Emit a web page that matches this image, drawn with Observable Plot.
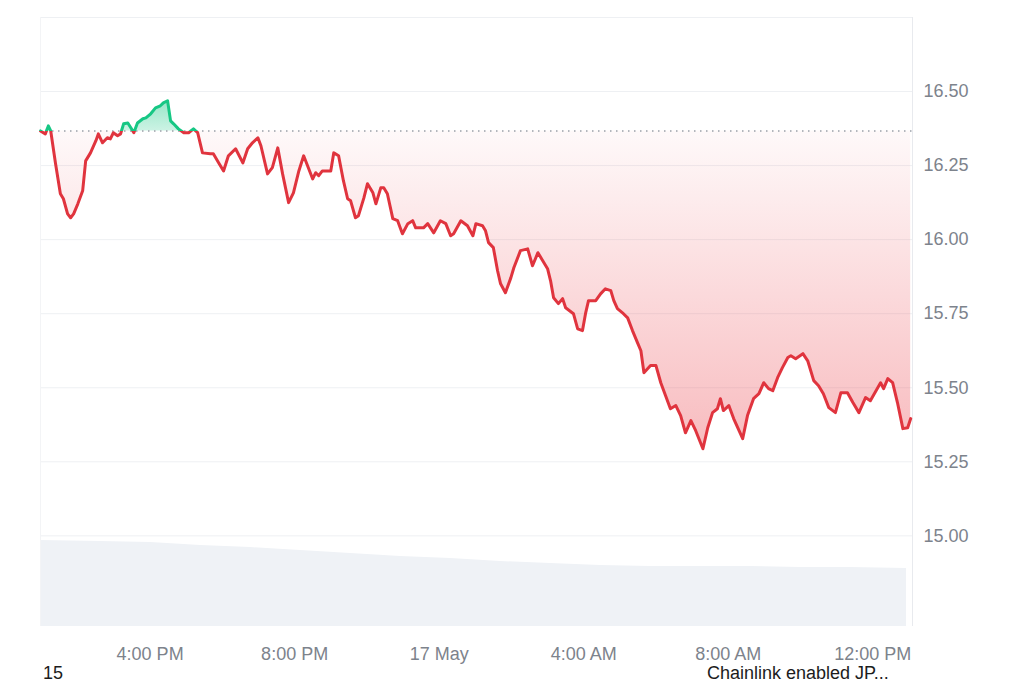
<!DOCTYPE html>
<html><head><meta charset="utf-8">
<script src="https://cdn.jsdelivr.net/npm/d3@7"></script>
<script src="https://cdn.jsdelivr.net/npm/@observablehq/plot@0.6"></script>
<style>
html,body{margin:0;padding:0;background:#fff;}
#wrap{position:relative;width:1024px;height:683px;font-family:"Liberation Sans",Arial,sans-serif;overflow:hidden;}
#chart svg{display:block;}
#notes{position:relative;height:19px;line-height:18px;font-size:18px;color:#1c1c1c;}
#notes span{position:absolute;top:0;white-space:nowrap;}
</style></head><body>
<div id="wrap"><div id="chart"></div><div id="notes"><span style="left:43px">15</span><span style="left:707px">Chainlink enabled JP...</span></div></div>
<script>
// Time origin: 16 May 2024 13:00 (UTC used as local clock)
const START = Date.UTC(2024, 4, 16, 13, 0);

// minutes after START
const minutes = [
  -2,6,11,15,23,31,36,43,48,53,60,68,73,81,90,94,101,109,114,119,126,131,136,143,148,153,159,168,173,181,189,197,202,209,214,219,227,236,244,252,259,267,280,285,294,302,310,322,334,342,
  350,359,364,375,383,392,400,410,418,427,435,450,455,460,466,480,485,493,501,508,513,521,526,535,541,550,555,563,568,574,583,591,599,608,616,621,634,641,651,662,671,679,684,696,707,716,721,732,
  737,742,750,757,762,770,779,784,795,807,815,824,832,840,845,850,858,865,870,883,890,898,903,908,920,928,936,945,950,956,966,973,981,990,995,1000,1011,
  1020,1028,1036,1044,1053,1061,1069,1078,1086,1098,1106,1114,1122,1127,1132,1141,1149,1164,1172,1182,1191,1199,1207,1214,1222,1230,1239,1244,1252,1264,1272,1282,1290,1298,1307,1318,1327,1338,1347,1357,1368,1376,1393,1398,1405,1413,1421,1430,1438,1443
];
// LINK price (USD)
const prices = [
  16.367,16.357,16.384,16.367,16.256,16.155,16.138,16.087,16.074,16.087,16.121,16.165,16.266,16.293,16.334,16.357,16.327,16.344,16.340,16.361,16.351,16.357,16.391,16.394,16.378,16.361,16.394,16.408,16.411,16.425,16.445,16.452,16.462,16.469,16.401,16.391,16.374,16.361,16.361,16.374,16.361,16.293,16.290,16.290,16.259,16.232,16.283,16.307,16.259,16.307,
  16.327,16.344,16.317,16.222,16.243,16.310,16.222,16.125,16.158,16.232,16.283,16.205,16.226,16.216,16.232,16.232,16.293,16.283,16.199,16.138,16.131,16.074,16.081,16.141,16.189,16.158,16.121,16.175,16.175,16.155,16.071,16.064,16.020,16.054,16.064,16.040,16.040,16.054,16.023,16.064,16.054,16.013,16.020,16.064,16.047,16.013,16.054,16.047,
  16.030,15.990,15.973,15.895,15.851,15.821,15.871,15.905,15.963,15.969,15.912,15.956,15.929,15.902,15.861,15.804,15.784,15.801,15.770,15.750,15.699,15.693,15.750,15.794,15.794,15.817,15.834,15.828,15.794,15.767,15.750,15.736,15.693,15.649,15.625,15.551,15.575,
  15.575,15.517,15.473,15.429,15.440,15.406,15.348,15.389,15.355,15.294,15.365,15.416,15.429,15.463,15.423,15.440,15.396,15.328,15.406,15.463,15.480,15.517,15.497,15.490,15.534,15.568,15.602,15.608,15.598,15.615,15.591,15.524,15.507,15.480,15.433,15.416,15.483,15.483,15.450,15.416,15.467,15.456,15.517,15.497,15.531,15.517,15.450,15.362,15.365,15.396
];

// volume band (24h volume, $M)
const volMinutes = [-2,98,181,264,347,430,513,596,679,762,845,928,1011,1094,1177,1260,1343,1436];
const volumes    = [580,574,567,547,533,513,493,472,459,439,425,412,405,405,405,398,398,391];

const yTicks = [15.00, 15.25, 15.50, 15.75, 16.00, 16.25, 16.50];
const gridTicks = [15.00, 15.25, 15.50, 15.75, 16.00, 16.25, 16.50, 16.75];
const xTickMinutes = [180, 420, 660, 900, 1140, 1380];
const xTickLabels = ["4:00 PM", "8:00 PM", "17 May", "4:00 AM", "8:00 AM", "12:00 PM"];
const xDomainMinutes = [-2, 1446];
const yDomain = [14.694, 16.75];
const VOL_K = 0.0005; // price units per $M in the volume band

const t = m => new Date(START + m * 60000);
const BASE = prices[0];
const data = minutes.map((m, i) => ({time: t(m), price: prices[i]}));
const volData = volMinutes.map((m, i) => ({time: t(m), vol: volumes[i]}));
const tickDates = xTickMinutes.map(t);
const labelOf = new Map(tickDates.map((d, i) => [+d, xTickLabels[i]]));

const W = 1024, H = 664, MT = 17, MB = 38, ML = 40, MR = 112;
const RED = "#e0343e", GREEN = "#16c784";

const chart = Plot.plot({
  width: W, height: H,
  marginTop: MT, marginBottom: MB, marginLeft: ML, marginRight: MR,
  style: {fontFamily: "'Liberation Sans', Arial, sans-serif", fontSize: "18px", color: "#7d838c", background: "white", overflow: "visible"},
  x: {type: "utc", domain: xDomainMinutes.map(t), ticks: tickDates, tickFormat: d => labelOf.get(+d), tickSize: 0, tickPadding: 21, label: null},
  y: {domain: yDomain, axis: "right", ticks: yTicks, tickFormat: d3.format(".2f"), tickSize: 0, tickPadding: 11, label: null},
  marks: [
    Plot.areaY(volData, {x: "time", y1: yDomain[0], y2: d => yDomain[0] + d.vol * VOL_K, fill: "#eff2f6"}),
    Plot.ruleY(gridTicks, {stroke: "#eef0f3", strokeWidth: 1}),
    Plot.ruleX([t(xDomainMinutes[0])], {stroke: "#f3f4f6"}),
    Plot.ruleX([t(xDomainMinutes[1])], {stroke: "#e8eaee"}),
    Plot.areaY(data, {x: "time", y1: BASE, y2: d => Math.min(d.price, BASE), fill: "url(#redGrad)"}),
    Plot.areaY(data, {x: "time", y1: BASE, y2: d => Math.max(d.price, BASE), fill: "url(#greenGrad)"}),
    Plot.ruleY([BASE], {stroke: "#9aa0a8", strokeWidth: 1.5, strokeDasharray: "1.5,4.5"}),
    Plot.line(data, {x: "time", y: "price", stroke: RED, strokeWidth: 3, strokeLinejoin: "round", strokeLinecap: "round"}),
    Plot.line(data, {x: "time", y: "price", stroke: GREEN, strokeWidth: 3, strokeLinejoin: "round", strokeLinecap: "round"})
  ]
});

let yb;
const ys = chart.scale && chart.scale("y");
if (ys && typeof ys.apply === "function") yb = ys.apply(BASE);
else yb = d3.scaleLinear(yDomain, [H - MB, MT])(BASE);

const defs = d3.select(chart).insert("defs", ":first-child");
const rg = defs.append("linearGradient").attr("id", "redGrad").attr("x1", 0).attr("y1", 0).attr("x2", 0).attr("y2", 1);
rg.append("stop").attr("offset", 0).attr("stop-color", "rgb(234,57,67)").attr("stop-opacity", 0.03);
rg.append("stop").attr("offset", 1).attr("stop-color", "rgb(234,57,67)").attr("stop-opacity", 0.34);
const gg = defs.append("linearGradient").attr("id", "greenGrad").attr("x1", 0).attr("y1", 0).attr("x2", 0).attr("y2", 1);
gg.append("stop").attr("offset", 0).attr("stop-color", "rgb(22,199,132)").attr("stop-opacity", 0.45);
gg.append("stop").attr("offset", 1).attr("stop-color", "rgb(22,199,132)").attr("stop-opacity", 0.22);
defs.append("clipPath").attr("id", "clipAbove").append("rect").attr("x", 0).attr("y", 0).attr("width", W).attr("height", yb);
defs.append("clipPath").attr("id", "clipBelow").append("rect").attr("x", 0).attr("y", yb).attr("width", W).attr("height", H - yb);

const lines = chart.querySelectorAll('g[aria-label="line"]');
if (lines.length >= 2) {
  lines[0].setAttribute("clip-path", "url(#clipBelow)");
  lines[1].setAttribute("clip-path", "url(#clipAbove)");
}

document.getElementById("chart").appendChild(chart);
</script>
</body></html>
